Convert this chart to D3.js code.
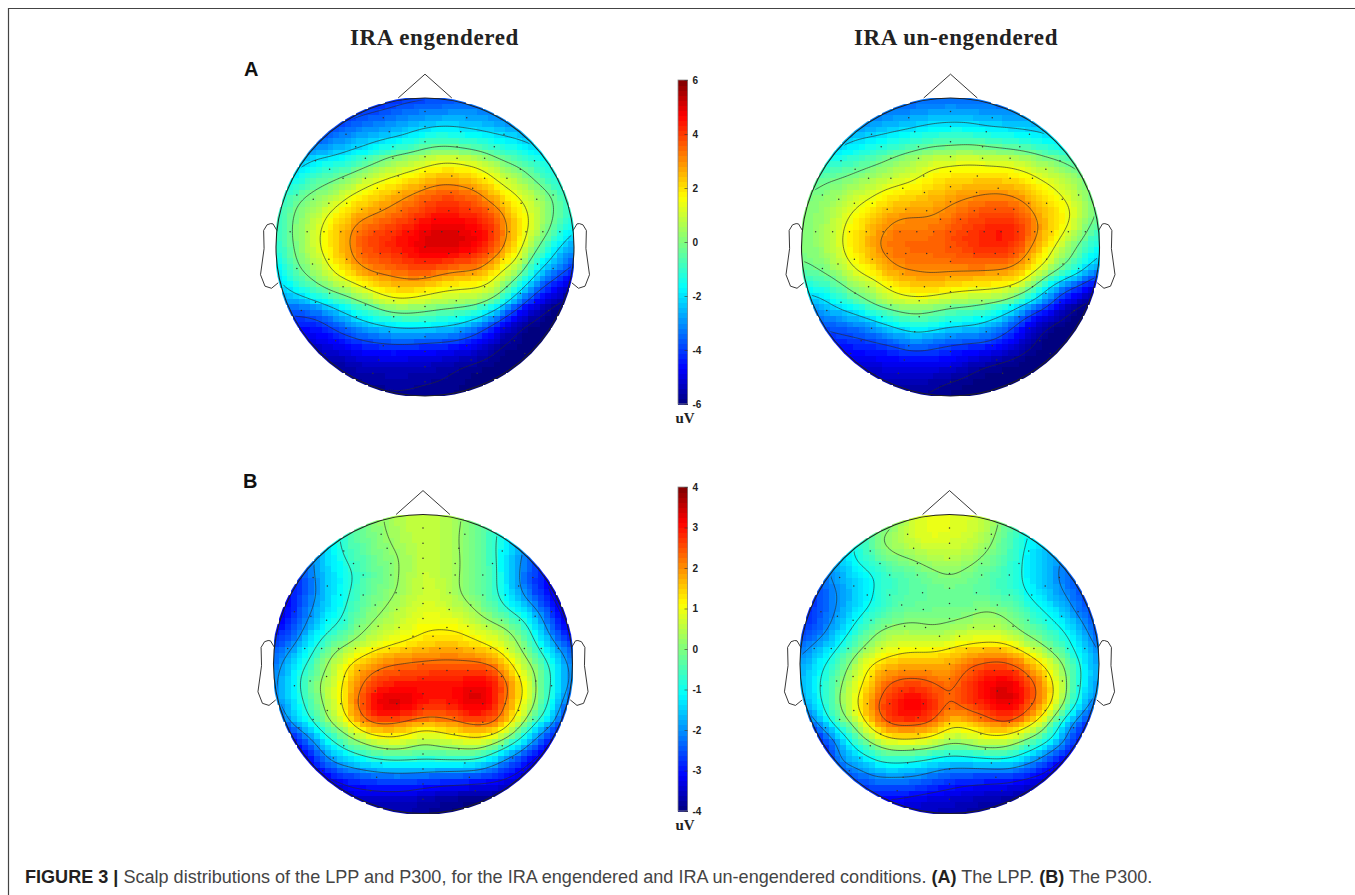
<!DOCTYPE html>
<html lang="en">
<head>
<meta charset="UTF-8">
<title>Scalp distributions</title>
<script src="https://cdn.jsdelivr.net/npm/d3@7"></script>
<style>
  body { margin: 0; background: #fff; }
  svg { display: block; }
  text { font-family: "Liberation Sans", Arial, sans-serif; }
  .title { font-family: "Liberation Serif", serif; font-weight: bold; font-size: 23px; letter-spacing: 0.65px; fill: #222; }
  .panel { font-weight: bold; font-size: 20px; fill: #111; }
  .unit { font-family: "Liberation Serif", serif; font-weight: bold; font-size: 15px; fill: #222; }
  .caption { font-size: 18.07px; fill: #444; }
  .caption .b { font-weight: bold; fill: #231f20; }
  .bar-axis text { font-size: 10px; font-weight: bold; fill: #222; font-family: "Liberation Sans", Arial, sans-serif; }
</style>
</head>
<body>
<svg id="chart" width="1355" height="895"></svg>
<script>
// Amplitudes (uV), on a grid of 17 columns and 18 rows.
// Columns run from -1 to 1 head radii, rows start at -1.103 radii, step 0.125
const lppEngendered = [
  [-4.98,-4.98,-4.98,-4.98,-4.86,-4.63,-4.4,-4.29,-4.17,-4.06,-3.94,-3.83,-3.71,-3.6,-3.6,-3.6,-3.6],
  [-5.09,-5.09,-5.09,-4.98,-4.86,-4.52,-4.29,-4.06,-3.94,-3.83,-3.71,-3.6,-3.48,-3.48,-3.48,-3.48,-3.48],
  [-4.63,-4.63,-4.52,-4.29,-3.83,-3.48,-3.25,-2.9,-2.68,-2.5,-2.5,-2.68,-3.02,-3.37,-3.48,-3.48,-3.48],
  [-4.06,-3.94,-3.83,-3.25,-2.79,-2.45,-2.16,-1.81,-1.18,-1.01,-1.3,-1.53,-1.76,-2.04,-2.56,-3.02,-3.25],
  [-2.9,-2.79,-2.22,-1.99,-1.58,-1.07,-0.1,0.25,0.65,1.05,0.9,0.45,-0.38,-0.84,-1.41,-1.87,-2.33],
  [-2.22,-1.99,-0.95,-0.49,-0.05,0.8,1.2,1.6,2.05,2.35,2.2,1.95,1.0,0.4,-0.6,-1.53,-2.1],
  [-1.53,-0.6,0,0.4,1.4,1.9,2.4,2.9,3.4,3.8,3.6,3.05,2.0,1.3,0.5,-0.38,-1.41],
  [-1.18,-0.1,0.55,1.6,2.4,2.8,3.2,3.7,4.2,4.4,4.3,4.0,3.3,2.0,0.9,-0.32,-1.18],
  [-1.18,0,1.0,2.1,3.0,3.8,4.1,4.5,4.9,5.1,5.0,4.7,3.6,2.2,0.7,-0.6,-2.22],
  [-1.41,-0.1,0.9,2.1,3.0,3.9,4.2,4.6,5.0,5.2,4.9,4.5,3.3,1.7,-0.2,-1.99,-3.14],
  [-2.1,-0.38,0.3,1.5,2.5,3.2,3.4,3.7,4.0,3.45,3.2,3.0,1.5,0.8,-1.76,-2.9,-4.29],
  [-2.56,-1.41,-0.6,0.3,0.8,1.7,2.2,2.4,2.1,1.7,1.5,1.4,0.65,-1.41,-3.48,-4.75,-5.72],
  [-3.48,-3.37,-2.79,-1.99,-1.07,-0.38,0.6,0.7,0.4,0.1,0,-0.32,-1.76,-3.71,-5.2,-5.87,-6.02],
  [-4.4,-4.29,-4.52,-3.71,-2.9,-2.27,-1.87,-1.53,-1.64,-1.76,-2.22,-3.25,-4.52,-5.67,-5.97,-6.12,-6.17],
  [-5.2,-5.09,-5.09,-4.75,-4.4,-4.06,-3.88,-3.88,-4.0,-4.11,-4.34,-4.86,-5.67,-5.87,-6.07,-6.12,-6.17],
  [-5.72,-5.72,-5.72,-5.72,-5.44,-5.32,-5.2,-5.26,-5.32,-5.44,-5.67,-5.82,-5.97,-6.07,-6.12,-6.17,-6.17],
  [-5.82,-5.82,-5.82,-5.82,-5.72,-5.72,-5.6,-5.6,-5.67,-5.72,-5.87,-6.02,-6.07,-6.12,-6.17,-6.17,-6.17],
  [-5.92,-5.92,-5.92,-5.92,-5.87,-5.82,-5.82,-5.82,-5.87,-5.92,-6.02,-6.07,-6.12,-6.17,-6.17,-6.17,-6.17]
];
const lppUnengendered = [
  [-4.06,-4.06,-4.06,-3.94,-3.83,-3.71,-3.6,-3.48,-3.42,-3.48,-3.48,-3.6,-3.6,-3.71,-3.71,-3.71,-3.71],
  [-4.06,-4.06,-3.94,-3.94,-3.83,-3.71,-3.6,-3.48,-3.42,-3.48,-3.48,-3.6,-3.6,-3.71,-3.71,-3.71,-3.71],
  [-3.83,-3.83,-3.6,-3.48,-3.02,-2.79,-2.56,-2.33,-2.16,-2.27,-2.56,-2.56,-2.68,-2.79,-3.02,-3.25,-3.48],
  [-3.25,-3.02,-2.56,-1.99,-1.87,-1.58,-1.3,-0.89,-0.89,-0.72,-1.01,-1.24,-1.41,-1.76,-2.22,-2.68,-3.02],
  [-2.33,-1.87,-1.53,-1.07,-0.72,-0.1,0.35,0.7,0.9,0.95,0.85,0.7,0.4,-0.05,-0.49,-1.18,-1.76],
  [-1.18,-0.49,-0.32,0.05,0.5,0.8,1.1,1.75,1.9,2.05,2.0,2.0,1.7,1.15,0.75,0,-0.84],
  [-0.1,0,0.4,0.9,1.4,1.85,2.1,2.4,2.7,2.85,3.05,3.0,2.6,1.9,1.35,0.5,-0.72],
  [0,0.2,0.9,1.65,2.2,2.8,2.9,2.9,3.2,3.6,3.9,4.0,3.5,2.5,1.9,0.9,-0.49],
  [0.05,0.3,1.2,2.1,2.8,3.3,3.35,3.35,3.8,4.1,4.3,4.5,3.9,2.7,1.6,0.35,-1.18],
  [0,0.2,1.2,2.1,2.9,3.4,3.5,3.5,3.7,4.0,4.3,4.3,3.3,2.0,0.65,-0.72,-1.87],
  [-0.43,-0.05,0.6,1.6,2.15,2.95,3.1,3.2,3.2,3.2,3.1,3.0,2.4,1.2,-0.2,-1.41,-3.02],
  [-1.64,-1.3,-0.6,0.3,0.9,1.8,2.2,2.3,1.95,1.75,1.7,1.5,0.65,-1.53,-3.37,-4.4,-5.72],
  [-3.02,-2.68,-1.76,-1.07,-0.1,0.35,0.6,0.3,-0.05,-0.2,-0.55,-1.07,-2.45,-3.48,-5.09,-5.87,-6.02],
  [-4.06,-3.71,-3.48,-3.14,-2.56,-1.76,-1.18,-1.3,-1.76,-1.87,-2.33,-3.25,-4.63,-5.67,-6.02,-6.17,-6.17],
  [-4.63,-4.52,-4.29,-4.17,-3.94,-3.71,-3.14,-3.48,-3.83,-3.94,-4.0,-4.63,-5.44,-5.92,-6.07,-6.17,-6.17],
  [-5.2,-5.2,-5.09,-5.09,-4.98,-4.86,-4.75,-4.75,-4.86,-5.32,-5.67,-5.87,-6.02,-6.12,-6.17,-6.17,-6.17],
  [-5.55,-5.55,-5.55,-5.55,-5.44,-5.44,-5.44,-5.55,-5.75,-5.87,-6.02,-6.07,-6.12,-6.17,-6.17,-6.17,-6.17],
  [-5.72,-5.72,-5.72,-5.72,-5.67,-5.67,-5.72,-5.82,-5.97,-6.02,-6.07,-6.12,-6.17,-6.17,-6.17,-6.17,-6.17]
];
const p300Engendered = [
  [-3.16,-2.68,-1.84,-1.12,-0.6,-0.1,0.25,0.5,0.6,0.5,0.25,-0.2,-0.7,-1.24,-1.84,-2.56,-2.92],
  [-3.16,-2.68,-1.84,-1.12,-0.6,-0.1,0.25,0.5,0.6,0.5,0.25,-0.2,-0.7,-1.24,-1.84,-2.56,-2.92],
  [-3.4,-2.8,-2.08,-1.12,-0.5,-0.1,0.15,0.5,0.65,0.55,0.15,-0.25,-0.85,-1.48,-2.2,-2.8,-3.16],
  [-3.4,-2.92,-2.08,-1.24,-0.65,-0.3,0.05,0.25,0.6,0.5,0.2,-0.2,-0.85,-1.72,-2.56,-3.04,-3.4],
  [-3.4,-3.04,-2.08,-1.36,-0.95,-0.45,-0.05,0.3,0.7,0.55,0.2,-0.25,-0.75,-1.84,-2.68,-3.28,-3.4],
  [-3.52,-3.04,-2.2,-1.42,-0.85,-0.3,0,0.35,0.7,0.6,0.15,-0.2,-0.8,-1.72,-2.68,-3.4,-3.64],
  [-3.64,-2.92,-1.96,-1.24,-0.7,-0.05,0.25,0.65,0.85,0.85,0.55,0.1,-0.45,-1.0,-1.72,-2.92,-3.64],
  [-3.16,-2.56,-1.54,-0.85,-0.4,0.25,0.55,0.8,1.15,1.2,1.15,0.75,0.5,0,-1.12,-2.44,-3.4],
  [-2.56,-1.96,-1.0,-0.05,0.4,0.9,1.25,1.5,1.6,1.7,1.7,1.5,1.05,0.4,-0.6,-1.66,-2.56],
  [-2.32,-1.36,-0.5,0.35,1.3,1.9,2.3,2.4,2.5,2.55,2.5,2.5,2.2,1.0,0.1,-1.0,-2.32],
  [-2.2,-1.24,-0.1,0.6,1.5,2.45,2.9,3.0,3.0,3.0,3.1,3.35,2.9,1.7,0.25,-1.0,-2.32],
  [-2.2,-1.48,-0.45,0.55,1.6,2.9,3.6,3.5,3.0,2.9,3.1,3.5,2.6,1.5,0.15,-1.24,-2.92],
  [-3.04,-1.72,-0.95,0.2,1.0,2.2,2.25,2.0,1.75,1.85,2.15,2.4,2.2,0.85,-0.8,-1.84,-3.76],
  [-3.88,-3.4,-2.2,-1.06,-0.25,0.35,0.85,0.8,0.2,0.55,0.7,0.9,0.25,-0.85,-2.2,-3.4,-3.88],
  [-4.0,-3.76,-3.04,-1.9,-1.48,-1.06,-0.85,-0.85,-0.8,-0.8,-0.8,-0.95,-1.84,-2.56,-3.4,-3.76,-4.0],
  [-4.0,-3.9,-3.88,-3.28,-2.92,-2.74,-2.56,-2.5,-2.68,-2.8,-2.86,-2.92,-3.04,-3.4,-3.76,-4.0,-4.0],
  [-3.9,-3.9,-3.9,-3.88,-3.52,-3.46,-3.46,-3.52,-3.64,-3.76,-3.88,-3.94,-4.0,-4.0,-4.0,-4.0,-4.0],
  [-3.9,-3.9,-3.9,-3.9,-3.8,-3.7,-3.7,-3.7,-3.8,-3.9,-4.0,-4.0,-4.0,-4.0,-4.0,-4.0,-4.0]
];
const p300Unengendered = [
  [-2.73,-2.12,-1.56,-1.11,-0.51,-0.14,0.65,0.95,0.9,0.8,0.6,-0.14,-0.76,-1.33,-1.78,-2.37,-2.73],
  [-2.73,-2.12,-1.56,-1.11,-0.51,-0.14,0.65,0.95,0.9,0.8,0.6,-0.14,-0.76,-1.33,-1.78,-2.37,-2.73],
  [-2.73,-2.24,-1.56,-1.06,0.04,0.34,0.8,0.95,0.85,0.7,0.4,-0.33,-0.88,-1.44,-1.83,-2.37,-2.73],
  [-2.98,-2.24,-1.67,-0.82,-0.33,0.1,0.22,0.53,0.59,0.41,0.04,-0.45,-1.06,-1.56,-1.94,-2.61,-2.98],
  [-3.1,-2.37,-1.72,-1.39,-1.0,-0.57,-0.33,-0.08,0.16,-0.08,-0.33,-0.63,-1.06,-1.56,-2.12,-2.61,-3.1],
  [-3.17,-2.55,-2.0,-1.5,-0.94,-0.51,-0.39,-0.27,-0.2,-0.27,-0.39,-0.63,-0.94,-1.56,-1.94,-2.49,-2.98],
  [-3.1,-2.55,-1.94,-1.28,-0.82,-0.39,-0.2,-0.08,-0.14,-0.08,0.16,-0.02,-0.45,-0.94,-1.5,-2.24,-2.98],
  [-2.73,-2.37,-1.61,-0.76,0.04,0.28,0.34,0.1,0.28,0.53,0.59,0.41,-0.14,-0.51,-0.94,-1.61,-2.61],
  [-2.24,-1.67,-1.0,-0.14,0.47,0.9,1.02,1.02,1.27,1.4,1.54,1.54,0.96,0.22,-0.45,-1.39,-2.12],
  [-1.89,-1.17,-0.45,0.59,1.54,1.74,1.94,1.88,1.81,2.4,2.65,2.7,2.21,1.34,0.34,-0.94,-2.06],
  [-1.78,-1.06,-0.14,0.9,1.81,2.6,2.65,2.5,2.2,2.7,3.2,3.4,2.95,2.01,0.59,-1.11,-2.0],
  [-2.0,-1.22,-0.02,1.2,2.28,2.95,3.4,3.05,2.22,2.8,2.95,3.5,2.8,1.94,0.34,-1.28,-2.61],
  [-2.98,-1.89,-0.57,0.41,1.94,2.65,2.55,2.4,1.4,1.47,1.94,2.4,1.74,0.65,-1.28,-2.61,-3.45],
  [-3.59,-3.1,-2.0,-0.63,0.28,0.9,0.96,0.77,0.22,0.41,0.77,0.53,-0.14,-0.76,-1.72,-3.1,-3.59],
  [-3.73,-3.59,-2.0,-1.67,-1.06,-0.82,-1.0,-1.22,-1.5,-1.39,-1.28,-1.11,-1.56,-2.3,-3.38,-3.59,-3.73],
  [-3.73,-3.52,-2.86,-2.61,-2.12,-2.18,-2.12,-2.43,-2.73,-2.86,-2.92,-2.98,-3.24,-3.45,-3.66,-3.73,-3.8],
  [-3.59,-3.45,-3.24,-3.17,-3.17,-3.1,-3.28,-3.38,-3.42,-3.55,-3.66,-3.7,-3.8,-3.87,-3.87,-3.87,-3.87],
  [-3.59,-3.59,-3.52,-3.45,-3.45,-3.45,-3.52,-3.59,-3.66,-3.73,-3.8,-3.87,-3.87,-3.94,-3.94,-3.94,-3.94]
];

// Contour levels of each map
const lppLevels = [-5.72, -3.88, -2.04, -0.2, 1.4, 3];
const p300EngLevels = [-3.16, -1.96, -0.8, 0.2, 1.2, 2.2];
const p300UnLevels = [-3.1, -2, -1, 0.1, 1.2, 2.35];

// Colour bar ticks
const lppTicks = [6, 4, 2, 0, -2, -4, -6];
const p300Ticks = [4, 3, 2, 1, 0, -1, -2, -3, -4];

// Electrode rows: [row in head radii, |column| in head radii], mirrored around the midline
const electrodeRows = [
  [-0.91,[0]],[-0.868,[0.28]],[-0.808,[0]],[-0.774,[0.24]],[-0.756,[0.53]],[-0.707,[0]],
  [-0.673,[0.215,0.465]],[-0.606,[0]],[-0.595,[0.215,0.4]],[-0.579,[0.735]],[-0.521,[0.64]],
  [-0.506,[0]],[-0.477,[0.18]],[-0.461,[0.4,0.55]],[-0.405,[0]],[-0.394,[0.32]],[-0.365,[0.175]],
  [-0.349,[0.86]],[-0.32,[0.75]],[-0.304,[0]],[-0.293,[0.525,0.645]],[-0.253,[0.3,0.425]],
  [-0.244,[0.16]],[-0.186,[0.067]],
  [-0.103,[0,0.113,0.226,0.339,0.452,0.565,0.678,0.791,0.905]],
  [0,[0]],[0.043,[0.16,0.3,0.425]],[0.083,[0.525,0.645]],[0.098,[0]],[0.114,[0.755]],[0.145,[0.86]],
  [0.181,[0.32]],[0.199,[0]],[0.266,[0.175,0.4,0.55]],[0.3,[0]],[0.311,[0.64]],[0.36,[0.21]],
  [0.371,[0.735]],[0.389,[0.4]],[0.4,[0]],[0.427,[0.83]],[0.468,[0.21,0.46]],[0.501,[0]],
  [0.546,[0.53]],[0.568,[0.24]],[0.602,[0]],[0.629,[0.6]],[0.662,[0.28]],[0.702,[0]],
  [0.714,[0.67]],[0.758,[0.31]],[0.803,[0]],[0.848,[0.35]],[0.904,[0]]
];

// Nose and ear outlines in head radii
const noseX = [-0.18, 0, 0.18];
const noseY = [-1, -1.16, -1];
const earX = [0.994, 1.02, 1.036, 1.06, 1.083, 1.08, 1.104, 1.074, 1.03, 0.985];
const earY = [-0.111, -0.155, -0.157, -0.149, -0.111, 0.011, 0.186, 0.263, 0.277, 0.24];

const jetStops = [0, 0.11, 0.36, 0.5, 0.64, 0.89, 1];
const jetColors = ['#00007f', '#0000ff', '#00ffff', '#7fff7f', '#ffff00', '#ff0000', '#7f0000'];

const svg = d3.select('#chart');

const GRID_X0 = -1, GRID_Y0 = -1.103, GRID_STEP = 0.125;
const CELLS = 52;

// soft edge for the heat cells, the source raster is not crisp
svg.append('defs').append('filter').attr('id', 'soft')
  .append('feGaussianBlur').attr('stdDeviation', 0.55);

// Catmull-Rom between the read values, as the topographic map does between electrodes
function cubic(a, b, c, d, t) {
  return 0.5 * (2 * b + (c - a) * t + (2 * a - 5 * b + 4 * c - d) * t * t + (3 * b - a - 3 * c + d) * t * t * t);
}
function sampleGrid(grid, u, v) {
  const gx = Math.max(0, Math.min(grid[0].length - 1.001, (u - GRID_X0) / GRID_STEP));
  const gy = Math.max(0, Math.min(grid.length - 1.001, (v - GRID_Y0) / GRID_STEP));
  const ix = Math.floor(gx), iy = Math.floor(gy);
  const vals = [-1, 0, 1, 2].map(dy => {
    const row = grid[Math.max(0, Math.min(grid.length - 1, iy + dy))];
    const at = k => row[Math.max(0, Math.min(row.length - 1, ix + k))];
    return cubic(at(-1), at(0), at(1), at(2), gx - ix);
  });
  return cubic(vals[0], vals[1], vals[2], vals[3], gy - iy);
}

function drawMap(id, cx, cy, r, grid, vmax, levels) {
  const x = d3.scaleLinear().domain([-1, 1]).range([cx - r, cx + r]);
  const y = d3.scaleLinear().domain([-1, 1]).range([cy - r, cy + r]);
  const t = d3.scaleLinear().domain([-vmax, vmax]).range([0, 1]).clamp(true);
  const jet = d3.scaleLinear().domain(jetStops).range(jetColors);
  const color = d => jet(Math.round(t(d) * 63) / 63);
  const g = svg.append('g');

  // smooth field over the whole head, a bit wider than the circle
  const nx = 177, ny = 181;
  const fx = d3.scaleLinear().domain([0, nx - 1]).range([-1.1, 1.1]);
  const fy = d3.scaleLinear().domain([0, ny - 1]).range([GRID_Y0, GRID_Y0 + 2.25]);
  const fine = new Array(nx * ny);
  for (let j = 0; j < ny; j++) for (let i = 0; i < nx; i++) fine[j * nx + i] = sampleGrid(grid, fx(i), fy(j));
  if (d3.blur2) d3.blur2({ data: fine, width: nx, height: ny }, 4);
  const fieldAt = (u, v) => fine[Math.round(fy.invert(v)) * nx + Math.round(fx.invert(u))];

  // heat cells, square pixels whose centre lies inside the head, trimmed just past the outline
  const cellSize = 2 / CELLS;
  const cells = [];
  d3.range(CELLS).forEach(j => d3.range(CELLS).forEach(i => {
    const u = -1 + (i + 0.5) * cellSize, v = -1 + (j + 0.5) * cellSize;
    if (u * u + v * v <= 1.04) cells.push({ u, v, val: fieldAt(u, v) });
  }));
  g.append('clipPath').attr('id', id + 'h').append('circle').attr('cx', cx).attr('cy', cy).attr('r', r + 1.5);
  g.append('g').attr('clip-path', `url(#${id}h)`).append('g')
    .attr('shape-rendering', 'crispEdges').attr('filter', 'url(#soft)')
    .selectAll('rect').data(cells).join('rect')
    .attr('x', d => x(d.u - cellSize / 2))
    .attr('y', d => y(d.v - cellSize / 2))
    .attr('width', x(cellSize) - x(0) + 0.4)
    .attr('height', y(cellSize) - y(0) + 0.4)
    .attr('fill', d => color(d.val));

  // contour lines
  const contours = d3.contours().size([nx, ny]).thresholds(levels)(fine);
  const toPx = d3.geoTransform({
    point(px, py) { this.stream.point(x(fx(px - 0.5)), y(fy(py - 0.5))); }
  });
  g.append('clipPath').attr('id', id).append('circle').attr('cx', cx).attr('cy', cy).attr('r', r - 2);
  g.append('g').attr('clip-path', `url(#${id})`).selectAll('path').data(contours).join('path')
    .attr('d', d3.geoPath(toPx))
    .attr('fill', 'none').attr('stroke', '#2a2a2a').attr('stroke-opacity', 0.8).attr('stroke-width', 0.8);

  // electrodes
  const points = electrodeRows.flatMap(([v, us]) => us.flatMap(u => (u === 0 ? [[0, v]] : [[-u, v], [u, v]])));
  g.append('g').selectAll('circle').data(points).join('circle')
    .attr('cx', d => x(d[0])).attr('cy', d => y(d[1])).attr('r', 0.75).attr('fill', '#333');

  // head, nose, ears
  const line = d3.line().x(d => x(d[0])).y(d => y(d[1]));
  g.append('circle').attr('cx', cx).attr('cy', cy).attr('r', r)
    .attr('fill', 'none').attr('stroke', '#222').attr('stroke-width', 1.1);
  const outline = g.append('g').attr('fill', 'none').attr('stroke', '#222').attr('stroke-width', 0.9);
  outline.append('path').attr('d', line(noseX.map((u, i) => [u, noseY[i]])));
  outline.append('path').attr('d', line(earX.map((u, i) => [u, earY[i]])));
  outline.append('path').attr('d', line(earX.map((u, i) => [-u, earY[i]])));
}

function drawColorBar(x0, top, bottom, vmax, ticks, unitY) {
  const y = d3.scaleLinear().domain([vmax, -vmax]).range([top, bottom]);
  const t = d3.scaleLinear().domain([-vmax, vmax]).range([0, 1]);
  const jet = d3.scaleLinear().domain(jetStops).range(jetColors);
  const bins = d3.range(64).map(i => -vmax + (i * 2 * vmax) / 64);
  const w = 9.5;
  const g = svg.append('g');
  g.append('g').attr('shape-rendering', 'crispEdges').selectAll('rect').data(bins).join('rect')
    .attr('x', x0).attr('width', w)
    .attr('y', d => y(d + (2 * vmax) / 64))
    .attr('height', (bottom - top) / 64 + 0.5)
    .attr('fill', d => jet(t(d + vmax / 64)));
  g.append('rect').attr('x', x0).attr('y', top).attr('width', w).attr('height', bottom - top)
    .attr('fill', 'none').attr('stroke', '#8a8a8a').attr('stroke-width', 0.8);
  const axis = d3.axisRight(y).tickValues(ticks).tickSize(-3).tickPadding(5).tickFormat(String);
  const ag = g.append('g').attr('class', 'bar-axis').attr('transform', `translate(${x0 + w},0)`).call(axis);
  ag.select('.domain').remove();
  ag.selectAll('.tick line').attr('stroke', '#333').attr('stroke-width', 0.6);
  g.append('text').attr('class', 'unit').attr('x', x0 + 7).attr('y', unitY).attr('text-anchor', 'middle').text('uV');
}

// frame of the figure, open on the right and at the bottom
svg.append('path').attr('d', d3.line()([[1355, 8.5], [8.5, 8.5], [8.5, 895]]))
  .attr('fill', 'none').attr('stroke', '#444').attr('stroke-width', 1.2);

svg.append('text').attr('class', 'title').attr('x', 434.5).attr('y', 45).attr('text-anchor', 'middle').text('IRA engendered');
svg.append('text').attr('class', 'title').attr('x', 956).attr('y', 45).attr('text-anchor', 'middle').text('IRA un-engendered');
svg.append('text').attr('class', 'panel').attr('x', 244).attr('y', 76).text('A');
svg.append('text').attr('class', 'panel').attr('x', 243).attr('y', 488).text('B');

drawMap('h1', 425, 247, 149, lppEngendered, 6, lppLevels);
drawMap('h2', 950.5, 247, 149, lppUnengendered, 6, lppLevels);
drawMap('h3', 423, 664, 149.5, p300Engendered, 4, p300EngLevels);
drawMap('h4', 949.5, 664, 149.5, p300Unengendered, 4, p300UnLevels);

drawColorBar(678, 80, 404, 6, lppTicks, 423);
drawColorBar(678, 487, 811, 4, p300Ticks, 830);

const caption = svg.append('text').attr('class', 'caption').attr('x', 25).attr('y', 883);
caption.append('tspan').attr('class', 'b').text('FIGURE 3 | ');
caption.append('tspan').text('Scalp distributions of the LPP and P300, for the IRA engendered and IRA un-engendered conditions. ');
caption.append('tspan').attr('class', 'b').text('(A)');
caption.append('tspan').text(' The LPP. ');
caption.append('tspan').attr('class', 'b').text('(B)');
caption.append('tspan').text(' The P300.');
</script>
</body>
</html>
